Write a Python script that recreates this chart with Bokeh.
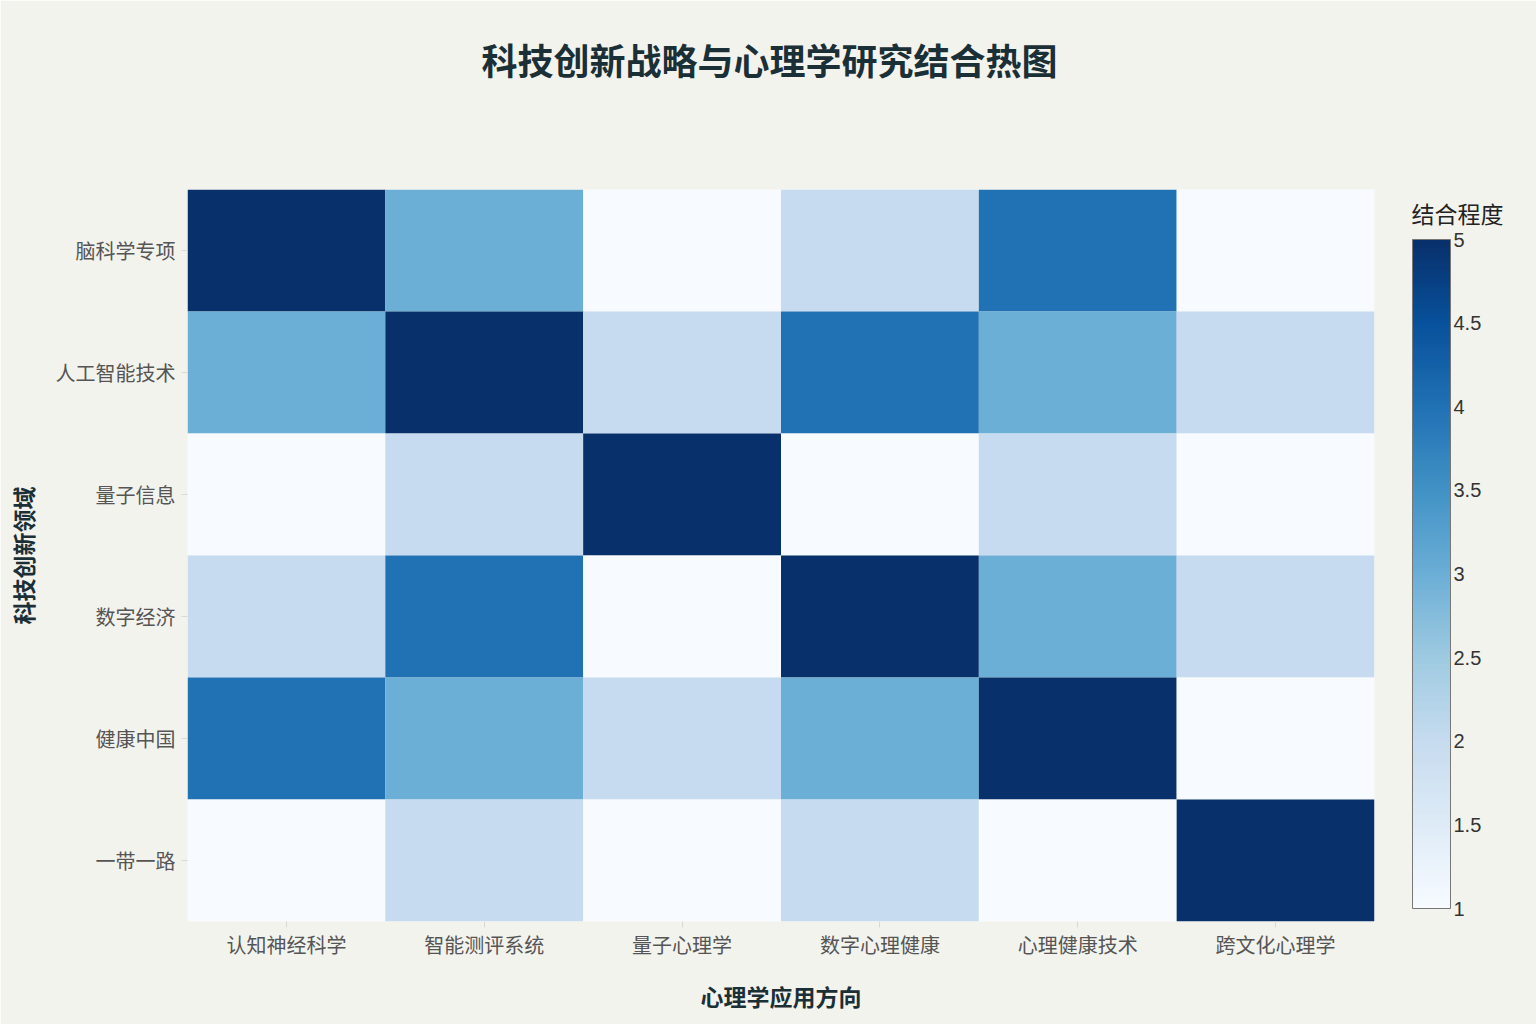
import numpy as np
from bokeh.plotting import figure
from bokeh.models import ColumnDataSource, LinearColorMapper, ColorBar, FixedTicker, Title
from bokeh.embed import file_html
from bokeh.resources import INLINE

x_labels = ["认知神经科学", "智能测评系统", "量子心理学", "数字心理健康", "心理健康技术", "跨文化心理学"]
y_labels = ["脑科学专项", "人工智能技术", "量子信息", "数字经济", "健康中国", "一带一路"]
values = [
    [5, 3, 1, 2, 4, 1],
    [3, 5, 2, 4, 3, 2],
    [1, 2, 5, 1, 2, 1],
    [2, 4, 1, 5, 3, 2],
    [4, 3, 2, 3, 5, 1],
    [1, 2, 1, 2, 1, 5],
]
cb_ticks = [1, 1.5, 2, 2.5, 3, 3.5, 4, 4.5, 5]

# Plotly "Blues" stops
stops = [(0.0, (247, 251, 255)), (0.125, (222, 235, 247)), (0.25, (198, 219, 239)),
         (0.375, (158, 202, 225)), (0.5, (107, 174, 214)), (0.625, (66, 146, 198)),
         (0.75, (33, 113, 181)), (0.875, (8, 81, 156)), (1.0, (8, 48, 107))]
pos = np.array([s[0] for s in stops])
cols = np.array([s[1] for s in stops], dtype=float)
palette = []
for t in np.linspace(0, 1, 257):
    r = np.interp(t, pos, cols[:, 0]); g = np.interp(t, pos, cols[:, 1]); b = np.interp(t, pos, cols[:, 2])
    palette.append("#%02x%02x%02x" % (int(round(r)), int(round(g)), int(round(b))))

xs, ys, vs = [], [], []
for i, yl in enumerate(y_labels):
    for j, xl in enumerate(x_labels):
        xs.append(xl); ys.append(yl); vs.append(values[i][j])
src = ColumnDataSource(dict(x=xs, y=ys, v=vs))

mapper = LinearColorMapper(palette=palette, low=1, high=5)

BG = "#f3f3ee"
FONT = "Noto Sans CJK SC"

p = figure(x_range=x_labels, y_range=list(reversed(y_labels)),
           width=1536, height=1024,
           output_backend="svg", toolbar_location=None,
           background_fill_color=BG, border_fill_color=BG,
           min_border_left=187, min_border_top=0, min_border_bottom=103, min_border_right=162)
p.outline_line_color = None
p.grid.grid_line_color = None

p.rect(x="x", y="y", width=1, height=1, source=src,
       fill_color={"field": "v", "transform": mapper}, line_color=None)

# spacer (closest to the frame) then the chart title above it
p.add_layout(Title(text=" ", text_font_size="10px", standoff=58), "above")
p.add_layout(Title(text="科技创新战略与心理学研究结合热图", align="left", offset=294,
                   vertical_align="top",
                   text_font=FONT, text_font_size="36px", text_font_style="bold",
                   text_color="#1b2f36", standoff=64), "above")

for ax in (p.xaxis[0], p.yaxis[0]):
    ax.axis_line_color = None
    ax.major_tick_line_color = "#d8d8d4"
    ax.major_tick_out = 6
    ax.major_tick_in = 0
    ax.minor_tick_line_color = None
    ax.major_label_text_font = FONT
    ax.major_label_text_font_size = "20px"
    ax.major_label_text_color = "#555555"
    ax.axis_label_text_font = FONT
    ax.axis_label_text_font_size = "23px"
    ax.axis_label_text_font_style = "bold"
    ax.axis_label_text_color = "#1b2f36"

p.xaxis.axis_label = "心理学应用方向"
p.yaxis.axis_label = "科技创新领域"
p.xaxis.major_label_standoff = 2
p.xaxis.axis_label_standoff = 17
p.yaxis.major_label_standoff = 6
p.yaxis.axis_label_standoff = 13

cb = ColorBar(color_mapper=mapper, width=38, height=669,
              ticker=FixedTicker(ticks=cb_ticks),
              major_label_text_font="Liberation Sans", major_label_text_font_size="20px",
              major_label_text_color="#333333", label_standoff=3,
              major_tick_line_color=None, minor_tick_line_color=None,
              bar_line_color="#777777", bar_line_width=1,
              background_fill_alpha=0.0,
              border_line_color=None,
              location=(1225, 13), padding=0, margin=0)
p.add_layout(cb, "center")

# colour bar heading drawn as the title of a horizontal, invisible bar
cb_title = ColorBar(color_mapper=mapper, orientation="horizontal", width=96, height=1,
                    ticker=FixedTicker(ticks=[]), scale_alpha=0.0,
                    title="结合程度", title_text_font=FONT, title_text_font_size="23px",
                    title_text_font_style="normal", title_text_color="#222222", title_standoff=0,
                    major_label_text_alpha=0.0, major_tick_line_color=None,
                    minor_tick_line_color=None, bar_line_color=None,
                    background_fill_alpha=0.0, border_line_color=None,
                    location=(1224, 691), padding=0, margin=0)
p.add_layout(cb_title, "center")

open("out.html", "w").write(file_html(p, INLINE))
